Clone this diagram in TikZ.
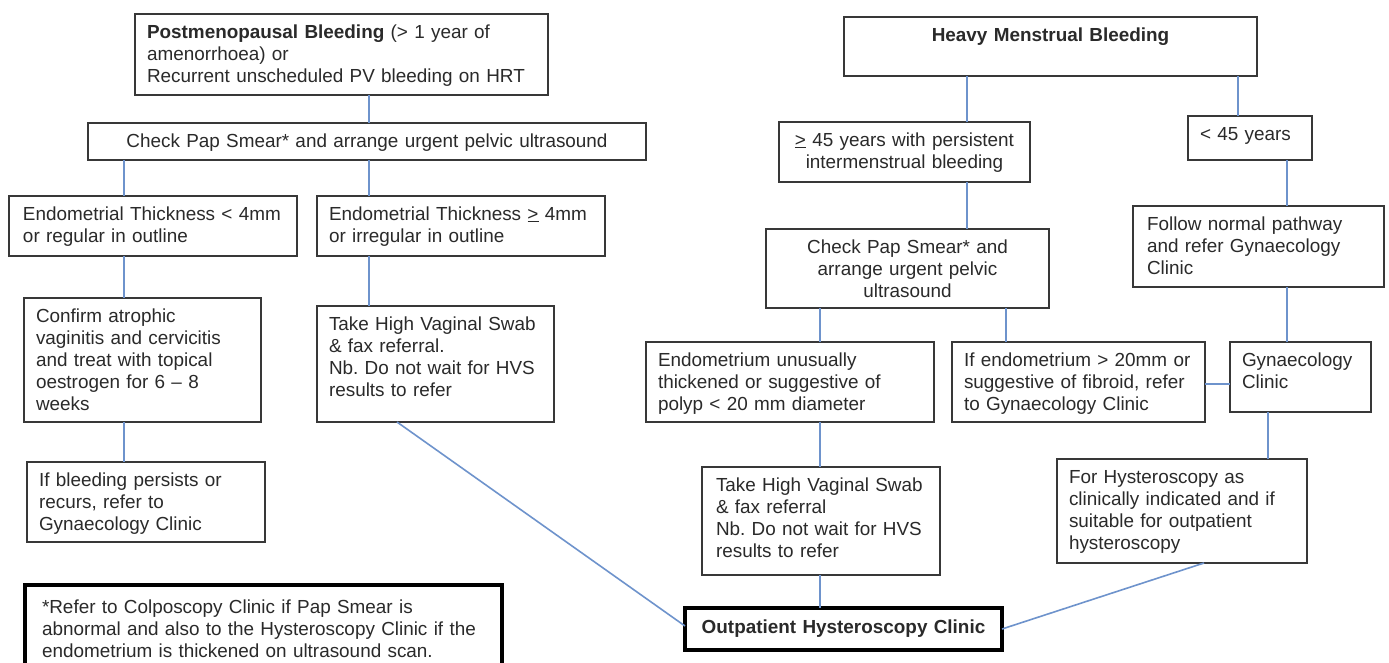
\documentclass[tikz,border=0pt]{standalone}
\usepackage{fontspec}
\setmainfont{Liberation Sans}
\usetikzlibrary{calc}
\definecolor{ln}{HTML}{6E93CC}
\definecolor{bd}{HTML}{383838}
\definecolor{tx}{HTML}{2A2A2A}
\frenchspacing
\tikzset{
  box/.style={draw=bd, line width=1.8pt, fill=white, inner sep=0pt, outer sep=0pt},
  heavybox/.style={draw=black, line width=4pt},
  txt/.style={inner sep=0pt, outer sep=0pt, text=tx, font=\fontsize{18.9pt}{22pt}\selectfont},
  conn/.style={draw=ln, line width=1.6pt},
}
% name, x, y, w, h, box options, text options, text
\newcommand{\bx}[8]{%
  \node[box,#6,minimum width=#4pt,minimum height=#5pt,anchor=north west] (#1) at (#2,#3) {};
  \pgfmathsetmacro\twd{#4-24}
  \node[txt,text width=\twd pt,anchor=north west,#7] (#1t) at ([xshift=12pt]#1.north west) {\rule{0pt}{24pt}#8};
}
\begin{document}
\begin{tikzpicture}[x=1pt,y=-1pt]
\useasboundingbox[fill=white] (0,0) rectangle (1389,662);

% ---------- left branch ----------
\bx{pmb}{135}{14}{413}{81}{}{align=left}{\textbf{Postmenopausal Bleeding} (> 1 year of\\amenorrhoea) or\\Recurrent unscheduled PV bleeding on HRT}
\bx{chk1}{88}{123}{558}{37}{}{align=center}{Check Pap Smear* and arrange urgent pelvic ultrasound}
\bx{thin}{9}{196}{288}{60}{}{align=left,xshift=2pt}{Endometrial Thickness < 4mm\\or regular in outline}
\bx{thick}{317}{196}{288}{60}{}{align=left}{Endometrial Thickness \underline{>} 4mm\\or irregular in outline}
\bx{conf}{24}{298}{237}{124}{}{align=left}{Confirm atrophic\\vaginitis and cervicitis\\and treat with topical\\oestrogen for 6 – 8\\weeks}
\bx{hvsa}{317}{306}{237}{116}{}{align=left}{Take High Vaginal Swab\\\& fax referral.\\Nb. Do not wait for HVS\\results to refer}
\bx{bleed}{27}{462}{238}{80}{}{align=left}{If bleeding persists or\\recurs, refer to\\Gynaecology Clinic}
\bx{foot}{25}{585}{477}{110}{heavybox}{align=left,xshift=5pt}{\rule{0pt}{28pt}*Refer to Colposcopy Clinic if Pap Smear is\\abnormal and also to the Hysteroscopy Clinic if the\\endometrium is thickened on ultrasound scan.}

% ---------- right branch ----------
\bx{hmb}{844}{17}{413}{59}{}{align=center}{\textbf{Heavy Menstrual Bleeding}}
\bx{gefive}{779}{122}{251}{60}{}{align=center}{\underline{>} 45 years with persistent\\intermenstrual bleeding}
\bx{ltfive}{1188}{116}{124}{44}{}{align=left}{< 45 years}
\bx{chkb}{766}{229}{283}{79}{}{align=center}{Check Pap Smear* and\\arrange urgent pelvic\\ultrasound}
\bx{follow}{1133}{206}{251}{81}{}{align=left,xshift=2pt}{Follow normal pathway\\and refer Gynaecology\\Clinic}
\bx{endoa}{646}{342}{288}{80}{}{align=left}{Endometrium unusually\\thickened or suggestive of\\polyp < 20 mm diameter}
\bx{endob}{952}{342}{253}{80}{}{align=left,text width=245pt}{If endometrium > 20mm or\\suggestive of fibroid, refer\\to Gynaecology Clinic}
\bx{gyn}{1230}{342}{141}{70}{}{align=left}{Gynaecology\\Clinic}
\bx{hvsb}{702}{467}{238}{108}{}{align=left,xshift=2pt}{Take High Vaginal Swab\\\& fax referral\\Nb. Do not wait for HVS\\results to refer}
\bx{hyst}{1057}{459}{250}{104}{}{align=left}{For Hysteroscopy as\\clinically indicated and if\\suitable for outpatient\\hysteroscopy}
\bx{op}{685}{608}{317}{42}{heavybox}{align=center}{\rule{0pt}{25pt}\textbf{Outpatient Hysteroscopy Clinic}}

% ---------- connector positions ----------
\coordinate (xa) at (124,0);
\coordinate (xb) at (369,0);
\coordinate (xc) at (397,0);
\coordinate (xd) at (967,0);
\coordinate (xe) at (1238,0);
\coordinate (xf) at (1287,0);
\coordinate (xg) at (820,0);
\coordinate (xh) at (1006,0);
\coordinate (xi) at (1268,0);
\coordinate (xj) at (1204,0);
\coordinate (ya) at (0,384);

% ---------- connectors ----------
\draw[conn] (pmb.south -| xb) -- (chk1.north -| xb);
\draw[conn] (chk1.south -| xa) -- (thin.north -| xa);
\draw[conn] (chk1.south -| xb) -- (thick.north -| xb);
\draw[conn] (thin.south -| xa) -- (conf.north -| xa);
\draw[conn] (thick.south -| xb) -- (hvsa.north -| xb);
\draw[conn] (conf.south -| xa) -- (bleed.north -| xa);
\draw[conn] (hvsa.south -| xc) -- ([yshift=3pt]op.west);
\draw[conn] (hmb.south -| xd) -- (gefive.north -| xd);
\draw[conn] (hmb.south -| xe) -- (ltfive.north -| xe);
\draw[conn] (gefive.south -| xd) -- (chkb.north -| xd);
\draw[conn] (ltfive.south -| xf) -- (follow.north -| xf);
\draw[conn] (chkb.south -| xg) -- (endoa.north -| xg);
\draw[conn] (chkb.south -| xh) -- (endob.north -| xh);
\draw[conn] (follow.south -| xf) -- (gyn.north -| xf);
\draw[conn] (endob.east |- ya) -- (gyn.west |- ya);
\draw[conn] (gyn.south -| xi) -- (hyst.north -| xi);
\draw[conn] (endoa.south -| xg) -- (hvsb.north -| xg);
\draw[conn] (hvsb.south -| xg) -- (op.north -| xg);
\draw[conn] (hyst.south -| xj) -- (op.east);
\end{tikzpicture}
\end{document}
